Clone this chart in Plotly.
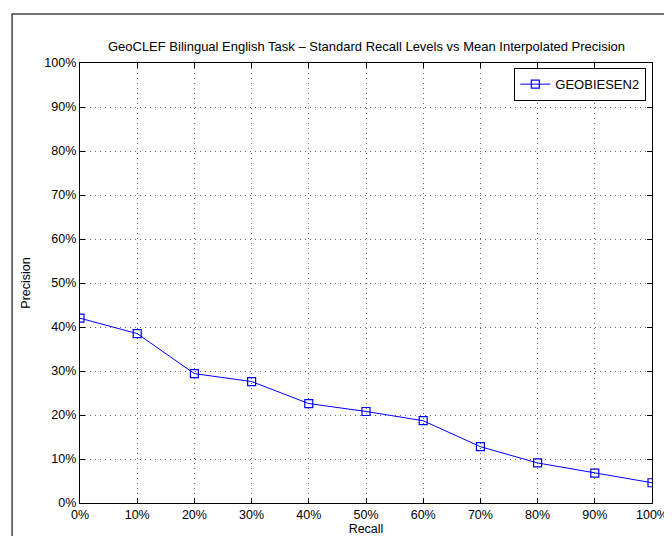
import plotly.graph_objects as go

recall_levels = [0, 10, 20, 30, 40, 50, 60, 70, 80, 90, 100]
precision = [42.0, 38.5, 29.4, 27.6, 22.6, 20.8, 18.7, 12.8, 9.1, 6.8, 4.6]
series_name = "GEOBIESEN2"
tick_values = [0, 10, 20, 30, 40, 50, 60, 70, 80, 90, 100]
tick_labels = [f"{v}%" for v in tick_values]

W, H = 672, 536
L, R, T, B = 72, 27, 55, 32
pw, ph = W - L - R, H - T - B

font = "Liberation Sans, Arial, Helvetica, sans-serif"

fig = go.Figure()
fig.add_trace(go.Scatter(
    x=recall_levels, y=precision, mode="lines+markers", name=series_name,
    line=dict(color="#0000ff", width=1),
    marker=dict(symbol="square-open", size=8, color="#0000ff", line=dict(width=1.2, color="#0000ff")),
))

axis_common = dict(
    range=[0, 100], tickmode="array", tickvals=tick_values, ticktext=tick_labels,
    showgrid=True, gridcolor="#666666", griddash="1px,4px", gridwidth=1,
    showline=True, linecolor="black", linewidth=1.3, mirror="ticks",
    ticks="inside", ticklen=5, tickcolor="black", tickwidth=1,
    zeroline=False, tickfont=dict(size=12.5, color="black", family=font),
)

fig.update_layout(
    width=W, height=H,
    margin=dict(l=L, r=R, t=T, b=B, pad=0),
    paper_bgcolor="white", plot_bgcolor="white",
    font=dict(family=font, size=12.5, color="black"),
    title=dict(text="GeoCLEF Bilingual English Task \u2013 Standard Recall Levels vs Mean Interpolated Precision",
               x=(L + pw / 2) / W, xanchor="center", y=1 - 38 / H, yanchor="middle",
               font=dict(size=13, family=font, color="black")),
    xaxis=dict(**axis_common, title=dict(text="Recall", standoff=1, font=dict(size=12.5, family=font))),
    yaxis=dict(**axis_common, title=dict(text="Precision", standoff=10, font=dict(size=12.5, family=font))),
    showlegend=True,
    legend=dict(x=(639 - L) / pw, xanchor="right", y=1 - (60 - T) / ph, yanchor="top",
                bgcolor="white", bordercolor="black", borderwidth=1.3,
                font=dict(size=13, family=font, color="black"),
                itemwidth=30, tracegroupgap=0),
)

# figure frame (left and top visible)
fig.add_shape(type="rect", xref="paper", yref="paper",
              x0=(4 - L) / pw, x1=(W + 20 - L) / pw,
              y0=-(H + 20 - T - ph) / ph, y1=(H - 5 - B) / ph,
              line=dict(color="#444444", width=1.5), fillcolor="rgba(0,0,0,0)", layer="below")

fig.write_html("out.html")
